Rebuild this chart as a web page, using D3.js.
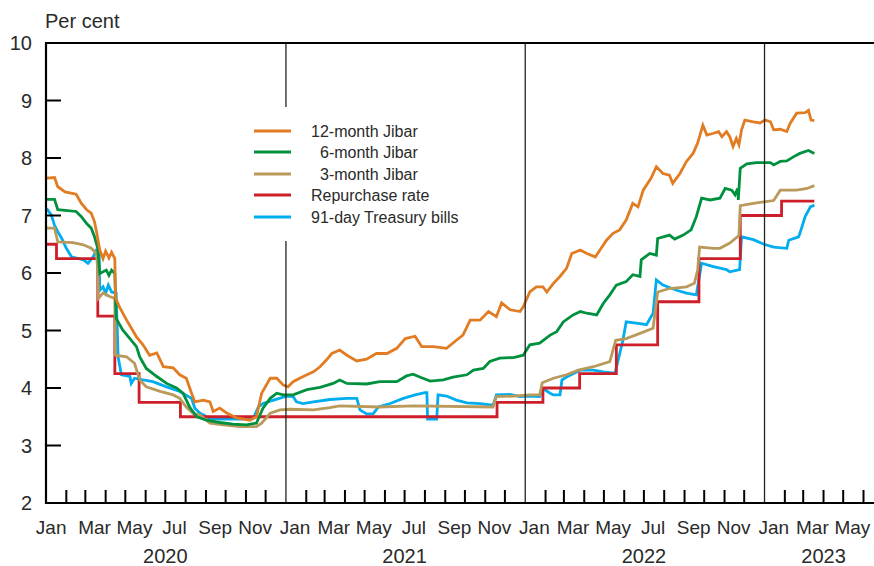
<!DOCTYPE html>
<html><head><meta charset="utf-8">
<script src="https://cdn.jsdelivr.net/npm/d3@7"></script>
<style>
body{margin:0;background:#fff}
svg{display:block}
text{font-family:"Liberation Sans",Arial,Helvetica,sans-serif;fill:#2a2a2a}
</style>
</head><body>
<svg id="chart" width="874" height="566"></svg>
<script>
// ---------- data ----------
const yTicks = [2,3,4,5,6,7,8,9,10];
const monthTickLabels = ["Jan","Mar","May","Jul","Sep","Nov"];
const yearLabels = ["2020","2021","2022","2023"];
const yearLabelDates = ["2020-07-01","2021-07-01","2022-07-01","2023-04-01"];
const seriesNames = ["12-month Jibar","6-month Jibar","3-month Jibar","Repurchase rate","91-day Treasury bills"];
const seriesColors = ["#e27c23","#00913f","#b99a5b","#cc1f2a","#00adef"];

const jibar12 = [
["2020-01-02",7.65],["2020-01-14",7.66],["2020-01-19",7.50],["2020-01-30",7.41],["2020-02-16",7.37],["2020-02-24",7.21],
["2020-03-03",7.10],["2020-03-10",7.04],["2020-03-15",6.89],["2020-03-18",6.72],["2020-03-23",6.40],["2020-03-28",6.25],
["2020-04-01",6.38],["2020-04-06",6.26],["2020-04-10",6.36],["2020-04-15",6.25],["2020-04-16",5.57],["2020-04-22",5.41],
["2020-05-03",5.18],["2020-05-18",4.89],["2020-05-28",4.75],["2020-06-07",4.57],["2020-06-18",4.61],["2020-06-28",4.37],
["2020-07-13",4.35],["2020-07-23",4.23],["2020-08-02",4.17],["2020-08-10",3.91],["2020-08-15",3.76],["2020-08-28",3.79],
["2020-09-07",3.76],["2020-09-12",3.59],["2020-09-22",3.65],["2020-10-02",3.57],["2020-10-18",3.48],["2020-11-07",3.44],
["2020-11-17",3.50],["2020-11-25",3.91],["2020-12-08",4.17],["2020-12-18",4.17],["2020-12-28",4.05],["2021-01-04",4.02],
["2021-01-12",4.11],["2021-01-22",4.17],["2021-02-02",4.23],["2021-02-12",4.28],["2021-02-22",4.37],["2021-03-04",4.49],
["2021-03-12",4.60],["2021-03-24",4.66],["2021-04-04",4.57],["2021-04-19",4.47],["2021-05-04",4.50],["2021-05-19",4.60],
["2021-06-04",4.60],["2021-06-19",4.69],["2021-07-02",4.86],["2021-07-17",4.90],["2021-07-27",4.72],["2021-08-14",4.72],
["2021-09-03",4.69],["2021-09-18",4.83],["2021-09-28",4.92],["2021-10-09",5.18],["2021-10-24",5.18],["2021-11-06",5.33],
["2021-11-18",5.24],["2021-11-26",5.48],["2021-12-09",5.36],["2021-12-24",5.33],["2021-12-29",5.41],["2022-01-08",5.67],
["2022-01-18",5.76],["2022-01-28",5.76],["2022-02-03",5.67],["2022-02-13",5.82],["2022-02-23",5.94],["2022-03-05",6.08],
["2022-03-13",6.34],["2022-03-26",6.40],["2022-04-05",6.34],["2022-04-18",6.28],["2022-04-25",6.40],["2022-05-05",6.57],
["2022-05-15",6.69],["2022-05-25",6.75],["2022-06-04",6.92],["2022-06-14",7.21],["2022-06-22",7.15],["2022-06-30",7.44],
["2022-07-12",7.65],["2022-07-20",7.85],["2022-07-30",7.73],["2022-08-09",7.70],["2022-08-14",7.56],["2022-08-25",7.73],
["2022-09-04",7.94],["2022-09-14",8.08],["2022-09-21",8.26],["2022-09-29",8.57],["2022-10-05",8.40],["2022-10-15",8.43],
["2022-10-23",8.46],["2022-10-28",8.37],["2022-11-04",8.46],["2022-11-09",8.37],["2022-11-14",8.20],["2022-11-19",8.34],
["2022-11-23",8.23],["2022-11-27",8.49],["2022-12-02",8.66],["2022-12-15",8.63],["2022-12-25",8.61],["2023-01-02",8.66],
["2023-01-10",8.63],["2023-01-15",8.49],["2023-01-25",8.50],["2023-02-04",8.46],["2023-02-09",8.60],["2023-02-19",8.78],
["2023-03-04",8.79],["2023-03-09",8.83],["2023-03-13",8.66],["2023-03-18",8.65]
];

const jibar6 = [
["2020-01-02",7.28],["2020-01-14",7.28],["2020-01-19",7.10],["2020-02-16",7.07],["2020-02-24",6.98],["2020-03-03",6.86],
["2020-03-10",6.78],["2020-03-15",6.63],["2020-03-20",6.43],["2020-03-23",5.99],["2020-04-02",6.05],["2020-04-06",5.96],
["2020-04-10",6.05],["2020-04-15",5.99],["2020-04-17",5.21],["2020-04-27",5.01],["2020-05-08",4.86],["2020-05-18",4.72],
["2020-05-23",4.54],["2020-06-02",4.34],["2020-06-18",4.20],["2020-07-03",4.08],["2020-07-18",4.00],["2020-07-28",3.91],
["2020-08-07",3.67],["2020-08-18",3.50],["2020-09-02",3.44],["2020-09-22",3.40],["2020-10-12",3.37],["2020-11-02",3.36],
["2020-11-17",3.39],["2020-11-27",3.65],["2020-12-08",3.82],["2020-12-18",3.91],["2020-12-28",3.88],["2021-01-12",3.88],
["2021-02-02",3.97],["2021-02-22",4.01],["2021-03-14",4.08],["2021-03-24",4.14],["2021-04-04",4.08],["2021-05-04",4.07],
["2021-05-24",4.11],["2021-06-19",4.11],["2021-07-04",4.21],["2021-07-14",4.24],["2021-07-24",4.19],["2021-08-09",4.12],
["2021-08-29",4.14],["2021-09-13",4.19],["2021-10-04",4.23],["2021-10-14",4.31],["2021-10-29",4.34],["2021-11-08",4.46],
["2021-11-23",4.52],["2021-12-14",4.53],["2021-12-29",4.57],["2022-01-08",4.75],["2022-01-23",4.78],["2022-02-08",4.92],
["2022-02-18",4.98],["2022-02-28",5.15],["2022-03-15",5.27],["2022-03-26",5.33],["2022-04-05",5.30],["2022-04-20",5.27],
["2022-04-30",5.47],["2022-05-10",5.62],["2022-05-20",5.79],["2022-06-04",5.85],["2022-06-14",5.97],["2022-06-25",5.94],
["2022-06-27",6.23],["2022-07-10",6.34],["2022-07-20",6.31],["2022-07-22",6.60],["2022-08-09",6.66],["2022-08-17",6.59],
["2022-08-30",6.66],["2022-09-11",6.75],["2022-09-19",6.98],["2022-09-27",7.30],["2022-10-10",7.27],["2022-10-25",7.30],
["2022-11-02",7.47],["2022-11-12",7.44],["2022-11-17",7.36],["2022-11-21",7.47],["2022-11-22",7.27],["2022-11-25",7.82],
["2022-12-05",7.90],["2022-12-20",7.92],["2023-01-10",7.92],["2023-01-15",7.88],["2023-01-25",7.94],["2023-02-04",7.95],
["2023-02-14",8.02],["2023-02-24",8.08],["2023-03-09",8.13],["2023-03-18",8.08]
];

const jibar3 = [
["2020-01-02",6.78],["2020-01-14",6.78],["2020-01-19",6.54],["2020-02-11",6.53],["2020-02-27",6.49],["2020-03-10",6.43],
["2020-03-18",6.34],["2020-03-20",6.05],["2020-03-21",5.56],["2020-03-28",5.65],["2020-04-07",5.59],["2020-04-15",5.56],
["2020-04-16",4.57],["2020-05-03",4.54],["2020-05-15",4.43],["2020-05-23",4.14],["2020-06-02",4.02],["2020-06-23",3.94],
["2020-07-13",3.88],["2020-07-23",3.82],["2020-08-02",3.67],["2020-08-12",3.56],["2020-08-23",3.53],["2020-09-07",3.39],
["2020-09-27",3.36],["2020-10-23",3.33],["2020-11-17",3.33],["2020-11-25",3.39],["2020-12-08",3.56],["2020-12-23",3.62],
["2021-01-07",3.63],["2021-02-12",3.62],["2021-03-09",3.66],["2021-03-24",3.69],["2021-05-24",3.67],["2021-07-14",3.69],
["2021-11-13",3.67],["2021-11-18",3.85],["2021-12-14",3.86],["2022-01-08",3.88],["2022-01-23",3.88],["2022-01-27",4.09],
["2022-02-13",4.17],["2022-03-05",4.23],["2022-03-23",4.31],["2022-04-15",4.37],["2022-05-10",4.46],["2022-05-19",4.83],
["2022-06-04",4.86],["2022-06-25",4.95],["2022-07-15",5.04],["2022-07-22",5.67],["2022-08-09",5.73],["2022-09-04",5.76],
["2022-09-16",5.82],["2022-09-21",6.05],["2022-09-24",6.45],["2022-10-15",6.43],["2022-10-25",6.43],["2022-11-09",6.52],
["2022-11-23",6.65],["2022-11-25",7.17],["2022-12-15",7.21],["2022-12-20",7.22],["2023-01-15",7.26],["2023-01-25",7.44],
["2023-02-19",7.44],["2023-03-07",7.47],["2023-03-18",7.52]
];

const repoRate = [
["2020-01-02",6.50],["2020-01-17",6.25],["2020-03-20",5.25],["2020-04-15",4.25],["2020-05-22",3.75],["2020-07-24",3.50],
["2021-11-19",3.75],["2022-01-28",4.00],["2022-03-25",4.25],["2022-05-20",4.75],["2022-07-22",5.50],["2022-09-23",6.25],
["2022-11-25",7.00],["2023-01-27",7.25],["2023-03-18",7.25]
];

const tbill91 = [
["2020-01-02",7.12],["2020-01-09",7.01],["2020-01-14",6.83],["2020-01-19",6.72],["2020-01-25",6.60],["2020-02-01",6.43],
["2020-02-09",6.28],["2020-02-27",6.23],["2020-03-05",6.17],["2020-03-13",6.28],["2020-03-18",6.40],["2020-03-22",6.40],
["2020-03-23",5.70],["2020-03-28",5.76],["2020-04-01",5.65],["2020-04-05",5.79],["2020-04-10",5.67],["2020-04-17",5.65],
["2020-04-20",4.54],["2020-04-25",4.23],["2020-05-08",4.20],["2020-05-10",4.08],["2020-05-15",4.17],["2020-05-28",4.14],
["2020-06-12",4.11],["2020-07-03",4.02],["2020-07-23",3.94],["2020-08-10",3.82],["2020-08-15",3.65],["2020-08-23",3.56],
["2020-09-07",3.47],["2020-09-22",3.46],["2020-10-23",3.46],["2020-11-12",3.47],["2020-11-20",3.67],["2020-11-27",3.73],
["2020-12-13",3.79],["2021-01-02",3.86],["2021-01-12",3.85],["2021-01-17",3.76],["2021-01-27",3.73],["2021-02-12",3.76],
["2021-03-09",3.80],["2021-04-04",3.82],["2021-04-19",3.82],["2021-04-24",3.62],["2021-05-04",3.55],["2021-05-14",3.55],
["2021-05-22",3.67],["2021-06-09",3.73],["2021-06-29",3.82],["2021-07-17",3.88],["2021-08-01",3.92],["2021-08-04",3.92],
["2021-08-05",3.46],["2021-08-19",3.46],["2021-08-21",3.88],["2021-09-03",3.86],["2021-09-18",3.79],["2021-10-04",3.74],
["2021-10-24",3.73],["2021-11-13",3.70],["2021-11-18",3.88],["2021-12-09",3.89],["2021-12-24",3.85],["2022-01-08",3.86],
["2022-01-23",3.85],["2022-01-28",3.99],["2022-02-08",3.91],["2022-02-13",3.88],["2022-02-23",3.88],["2022-02-26",4.14],
["2022-03-05",4.19],["2022-03-26",4.31],["2022-04-15",4.31],["2022-04-30",4.28],["2022-05-18",4.26],["2022-05-30",4.83],
["2022-06-04",5.15],["2022-06-25",5.12],["2022-07-05",5.10],["2022-07-15",5.30],["2022-07-20",5.88],["2022-07-30",5.79],
["2022-08-20",5.70],["2022-09-04",5.65],["2022-09-19",5.62],["2022-09-27",6.17],["2022-10-15",6.11],["2022-11-04",6.06],
["2022-11-09",6.02],["2022-11-24",6.06],["2022-11-27",6.63],["2022-12-15",6.58],["2022-12-31",6.50],["2023-01-15",6.45],
["2023-02-04",6.43],["2023-02-07",6.57],["2023-02-22",6.63],["2023-02-24",6.69],["2023-03-04",6.98],["2023-03-12",7.15],
["2023-03-18",7.18]
];

// ---------- chart ----------
const parse = d3.timeParse("%Y-%m-%d");
const svg = d3.select("#chart");
const L = 46, R = 874, T = 43, B = 503;
const x = d3.scaleTime().domain([parse("2020-01-01"), parse("2023-06-17")]).range([L, R]);
const y = d3.scaleLinear().domain([2, 10]).range([B, T]);

const axisG = svg.append("g");

// month ticks (non-January)
const months = d3.timeMonth.range(parse("2020-01-01"), parse("2023-06-10"));
axisG.selectAll("line.mt").data(months.filter(m => m.getMonth() !== 0)).enter().append("line")
  .attr("x1", d => x(d)).attr("x2", d => x(d)).attr("y1", B).attr("y2", B - 13)
  .attr("stroke", "#000").attr("stroke-width", 2);

// year separators
const yearStarts = [parse("2021-01-01"), parse("2022-01-01"), parse("2023-01-01")];
axisG.selectAll("line.ys").data(yearStarts).enter().append("line")
  .attr("x1", d => x(d)).attr("x2", d => x(d)).attr("y1", T).attr("y2", B)
  .attr("stroke", "#222").attr("stroke-width", 1.3);

// y ticks
axisG.selectAll("line.yt").data(yTicks.filter(v => v > 2 && v < 10)).enter().append("line")
  .attr("x1", L).attr("x2", L + 15).attr("y1", d => y(d)).attr("y2", d => y(d))
  .attr("stroke", "#000").attr("stroke-width", 2);

// y labels
axisG.selectAll("text.yl").data(yTicks).enter().append("text")
  .attr("x", 32).attr("y", d => y(d)).attr("dy", "0.36em")
  .attr("text-anchor", "end").attr("font-size", 20).text(d => d);

svg.append("text").attr("x", 45).attr("y", 28).attr("font-size", 20).text("Per cent");

// month labels (first label sits a little left, as in the original)
const labelMonths = months.filter(m => m.getMonth() % 2 === 0);
axisG.selectAll("text.ml").data(labelMonths).enter().append("text")
  .attr("x", (d, i) => x(d3.timeDay.offset(d, 14)) - (i === 0 ? 4 : 0))
  .attr("y", 534).attr("text-anchor", "middle").attr("font-size", 19)
  .text(d => monthTickLabels[d.getMonth() / 2]);

axisG.selectAll("text.yr").data(yearLabels).enter().append("text")
  .attr("x", (d, i) => x(parse(yearLabelDates[i])))
  .attr("y", 563).attr("text-anchor", "middle").attr("font-size", 20).text(d => d);

// legend background (interrupts separator)
const lg = svg.append("g");
lg.append("rect").attr("x", 242).attr("y", 107).attr("width", 238).attr("height", 134).attr("fill", "#fff");

// series lines
const line = d3.line().x(d => x(parse(d[0]))).y(d => y(d[1]));
const stepLine = d3.line().x(d => x(parse(d[0]))).y(d => y(d[1])).curve(d3.curveStepAfter);
const allSeries = [jibar12, jibar6, jibar3, repoRate, tbill91];
const drawOrder = [4, 3, 2, 1, 0];
const plotG = svg.append("g");
drawOrder.forEach(i => {
  plotG.append("path").datum(allSeries[i])
    .attr("d", i === 3 ? stepLine : line)
    .attr("fill", "none").attr("stroke", seriesColors[i])
    .attr("stroke-width", 2.8).attr("stroke-linejoin", "miter");
});

// frame lines
axisG.append("line").attr("x1", L).attr("x2", R).attr("y1", T).attr("y2", T).attr("stroke", "#000").attr("stroke-width", 2.2);
axisG.append("line").attr("x1", L).attr("x2", R).attr("y1", B).attr("y2", B).attr("stroke", "#000").attr("stroke-width", 2.2);
axisG.append("line").attr("x1", L).attr("x2", L).attr("y1", T - 1).attr("y2", B + 1).attr("stroke", "#000").attr("stroke-width", 2.2);
svg.node().appendChild(axisG.node());

// legend
const legRows = [131, 152, 174, 195, 217];
const legIndent = [0, 9, 9, 0, 0];
seriesNames.forEach((n, i) => {
  lg.append("line").attr("x1", 254).attr("x2", 291).attr("y1", legRows[i]).attr("y2", legRows[i])
    .attr("stroke", seriesColors[i]).attr("stroke-width", 3);
  lg.append("text").attr("x", 311 + legIndent[i]).attr("y", legRows[i]).attr("dy", "0.36em")
    .attr("font-size", 16).text(n);
});
svg.node().appendChild(lg.node());
</script>
</body></html>
